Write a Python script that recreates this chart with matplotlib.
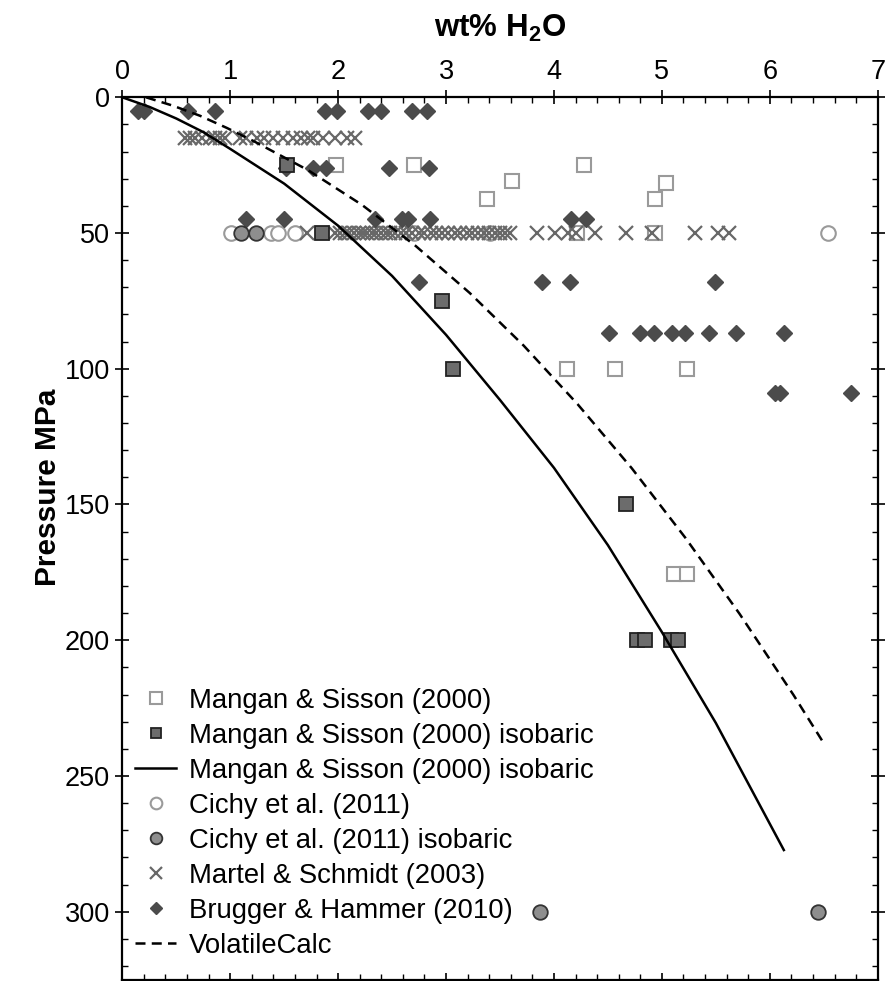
import numpy as np
import matplotlib
matplotlib.use('Agg')
import matplotlib.pyplot as plt
from matplotlib.ticker import MultipleLocator

plt.rcParams['font.family'] = ['Liberation Sans', 'DejaVu Sans']
plt.rcParams['mathtext.fontset'] = 'custom'
plt.rcParams['mathtext.rm'] = 'Liberation Sans'
plt.rcParams['mathtext.bf'] = 'Liberation Sans:bold'

# ---- data (wt% H2O, pressure MPa) ----
mangan_wt = [1.98, 2.70, 4.28, 3.61, 3.38, 5.04, 4.94, 4.21, 4.94,
             4.12, 4.57, 5.23, 5.11, 5.23]
mangan_p = [25, 25, 25, 31, 37.5, 31.5, 37.5, 50, 50,
            100, 100, 100, 175.5, 175.5]

mangan_iso_wt = [1.53, 1.85, 2.96, 3.06, 4.67, 4.77, 4.84, 5.08, 5.15]
mangan_iso_p = [25, 50, 75, 100, 150, 200, 200, 200, 200]

# isobaric fit curve
fit_wt = [0, 0.25, 0.5, 0.75, 1.0, 1.5, 2.0, 2.5, 3.0, 3.5, 4.0, 4.5,
          5.0, 5.5, 6.13]
fit_p = [0, 3.5, 7.8, 12.8, 19.0, 31.8, 47.3, 65.8, 87.5, 111.5, 136.5,
         165.0, 197.0, 230.5, 277.3]

cichy_wt = [1.01, 1.38, 1.44, 1.60, 2.70, 3.41, 6.54]
cichy_p = [50, 50, 50, 50, 50, 50, 50]

cichy_iso_wt = [1.10, 1.24, 3.87, 6.45]
cichy_iso_p = [50, 50, 300, 300]

martel_wt_15 = [0.58, 0.63, 0.67, 0.74, 0.81, 0.86, 0.91, 0.95, 1.09, 1.15,
                1.25, 1.31, 1.40, 1.49, 1.58, 1.66, 1.72, 1.77, 1.86, 1.97,
                2.08, 2.16]
martel_wt_50 = [1.71, 1.97, 2.02, 2.06, 2.10, 2.15, 2.19, 2.23, 2.27, 2.31,
                2.35, 2.40, 2.44, 2.48, 2.53, 2.58, 2.63, 2.68, 2.75, 2.80,
                2.86, 2.91, 2.96, 3.02, 3.08, 3.13, 3.19, 3.24, 3.30, 3.35,
                3.40, 3.45, 3.50, 3.55, 3.59, 3.84, 4.01, 4.13, 4.20, 4.38,
                4.67, 4.91, 5.31, 5.52, 5.62]

brugger_wt = [0.15, 0.20, 0.61, 0.86, 1.88, 1.99, 2.28, 2.40, 2.68, 2.82,
              1.52, 1.77, 1.89, 2.47, 2.84,
              1.15, 1.50, 2.34, 2.59, 2.65, 2.85, 4.16, 4.30,
              2.75, 3.89, 4.15, 5.49,
              4.51, 4.80, 4.93, 5.09, 5.21, 5.44, 5.69, 6.13,
              6.05, 6.09, 6.75]
brugger_p = [5, 5, 5, 5, 5, 5, 5, 5, 5, 5,
             26, 26, 26, 26, 26,
             45, 45, 45, 45, 45, 45, 45, 45,
             68, 68, 68, 68,
             87, 87, 87, 87, 87, 87, 87, 87,
             109, 109, 109]

# VolatileCalc curve
vc_wt = [0.22, 0.47, 0.72, 0.97, 1.22, 1.72, 2.22, 2.72, 3.22, 3.72,
         4.22, 4.72, 5.22, 5.72, 6.22, 6.51]
vc_p = [0, 3.1, 6.8, 11.3, 16.2, 26.8, 39.6, 54.8, 72.1, 91.5,
        113.1, 136.6, 162.4, 190.3, 220.2, 238.6]

martel_wt = martel_wt_15 + martel_wt_50
martel_p = [15] * len(martel_wt_15) + [50] * len(martel_wt_50)

fig = plt.figure(figsize=(8.92, 9.81), dpi=100)
ax = fig.add_axes([0.1371, 0.0015, 0.8469, 0.8993])

h_ms, = ax.plot(mangan_wt, mangan_p, 's', ms=10.5, mfc='white', mec='#9a9a9a',
                mew=1.5, label='Mangan & Sisson (2000)', zorder=2)
h_ci, = ax.plot(cichy_wt, cichy_p, 'o', ms=10.5, mfc='white', mec='#9a9a9a',
                mew=1.5, label='Cichy et al. (2011)', zorder=2)
h_mt, = ax.plot(martel_wt, martel_p, 'x', ms=10, color='#686868', mew=1.6,
                label='Martel & Schmidt (2003)', zorder=3)
h_bh, = ax.plot(brugger_wt, brugger_p, 'D', ms=8, color='#4b4b4b', mec='#4b4b4b',
                label='Brugger & Hammer (2010)', zorder=3)
h_cii, = ax.plot(cichy_iso_wt, cichy_iso_p, 'o', ms=10.5, mfc='#8e8e8e',
                 mec='#333333', mew=1.3, label='Cichy et al. (2011) isobaric', zorder=4)
h_msi, = ax.plot(mangan_iso_wt, mangan_iso_p, 's', ms=9.5, mfc='#6c6c6c',
                 mec='#222222', mew=1.3, label='Mangan & Sisson (2000) isobaric', zorder=4)
h_fit, = ax.plot(fit_wt, fit_p, '-', color='black', lw=1.8,
                 label='Mangan & Sisson (2000) isobaric', zorder=5)
h_vc, = ax.plot(vc_wt, vc_p, color='black', lw=1.8, ls=(0, (4, 2.5)),
                label='VolatileCalc', zorder=5)

ax.set_xlim(0, 7)
ax.set_ylim(325, 0)

ax.xaxis.set_major_locator(MultipleLocator(1))
ax.xaxis.set_minor_locator(MultipleLocator(0.2))
ax.yaxis.set_major_locator(MultipleLocator(50))
ax.yaxis.set_minor_locator(MultipleLocator(10))
ax.xaxis.tick_top()
ax.xaxis.set_label_position('top')
ax.tick_params(which='major', direction='inout', length=10, width=1.2,
               top=True, bottom=True, left=True, right=True,
               labeltop=True, labelbottom=False, labelsize=19.5, pad=4)
ax.tick_params(which='minor', direction='in', length=4, width=1.0,
               top=True, bottom=True, left=True, right=True)
for s in ax.spines.values():
    s.set_linewidth(1.6)

ax.set_xlabel('wt% H$_\\mathbf{2}$O', fontsize=22.5, fontweight='bold', labelpad=16)
ax.set_ylabel('Pressure MPa', fontsize=21.5, fontweight='bold')
ax.yaxis.set_label_coords(-0.08, 0.558)

ax.legend(handles=[h_ms, h_msi, h_fit, h_ci, h_cii, h_mt, h_bh, h_vc],
          loc='upper left', bbox_to_anchor=(0.017, 0.331), frameon=False,
          fontsize=19.8, markerscale=0.8, handlelength=1.5, handletextpad=0.45,
          labelspacing=0.33, borderpad=0, borderaxespad=0)

fig.savefig('out.png', dpi=100)
